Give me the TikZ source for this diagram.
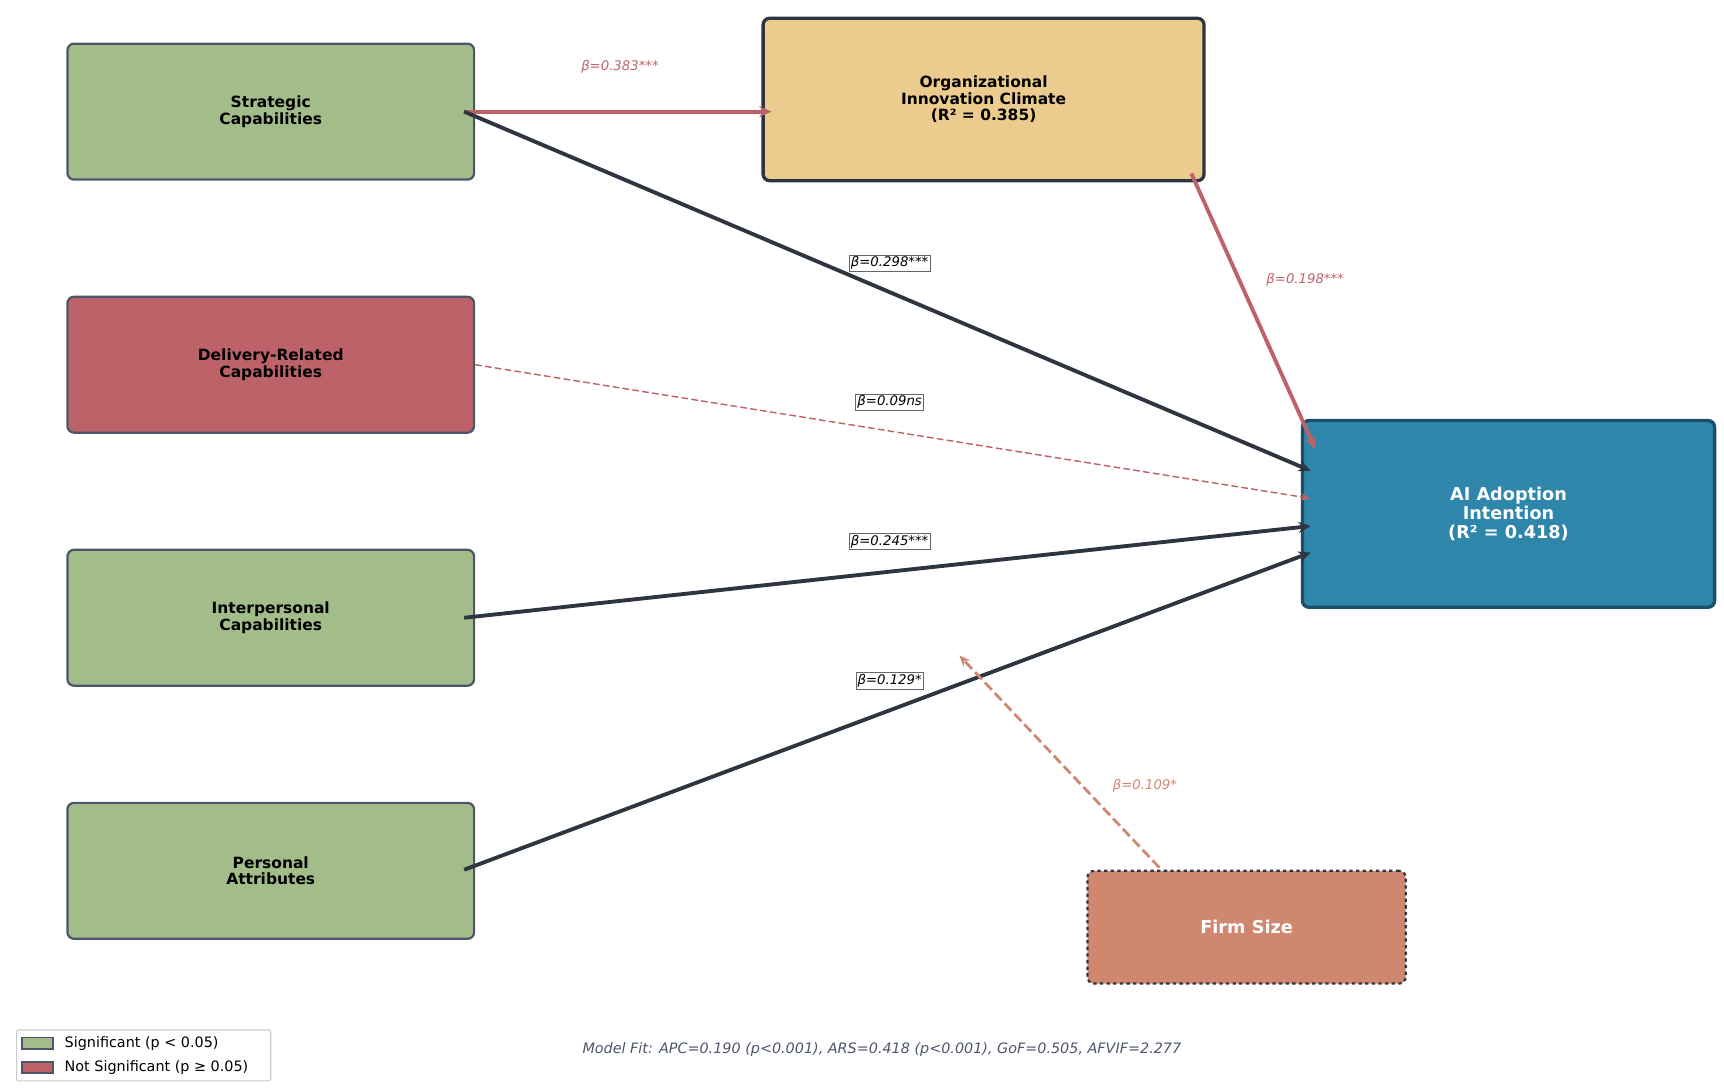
\documentclass[tikz,border=0pt]{standalone}
\usepackage{fontspec}
\setmainfont{DejaVu Sans}
\usetikzlibrary{arrows.meta,calc}
\definecolor{cg}{HTML}{A3BD8A}
\definecolor{cr}{HTML}{BE626A}
\definecolor{cy}{HTML}{EBCB8E}
\definecolor{cb}{HTML}{2E86AB}
\definecolor{co}{HTML}{D08770}
\definecolor{cd}{HTML}{2E3440}
\definecolor{ce}{HTML}{4C566A}
\definecolor{cbb}{HTML}{1B4F6B}
\begin{document}
\begin{tikzpicture}[x=1pt,y=-1pt,
 box/.style={draw=ce,line width=2pt,rounded corners=6pt,align=center,font=\bfseries\fontsize{14}{15}\selectfont,inner sep=0pt},
 lab/.style={font=\itshape\fontsize{12}{13}\selectfont},
 blab/.style={lab,draw=black!60,fill=white,inner sep=1.5pt,line width=0.6pt},
 strong/.style={draw=cd,line width=3.5pt,-{Stealth[length=11pt,width=10pt]}},
 sig/.style={draw=cr,line width=3.5pt,-{Stealth[length=11pt,width=10pt]}}]
\useasboundingbox (0,0) rectangle (1560,988);
\node[box,fill=cg,minimum width=368pt,minimum height=123pt] (S) at (245,101) {Strategic\\Capabilities};
\node[box,fill=cr,minimum width=368pt,minimum height=123pt] (D) at (245,330) {Delivery-Related\\Capabilities};
\node[box,fill=cg,minimum width=368pt,minimum height=123pt] (I) at (245,559) {Interpersonal\\Capabilities};
\node[box,fill=cg,minimum width=368pt,minimum height=123pt] (P) at (245,788) {Personal\\Attributes};
\node[box,fill=cy,draw=cd,line width=3pt,minimum width=399pt,minimum height=147pt] (O) at (890,90) {Organizational\\Innovation Climate\\(R² = 0.385)};
\node[box,fill=cb,draw=cbb,line width=3pt,text=white,font=\bfseries\fontsize{16}{17}\selectfont,minimum width=373pt,minimum height=169pt] (A) at (1365,465) {AI Adoption\\Intention\\(R² = 0.418)};
\node[box,fill=co,draw=cd,dashed,text=white,font=\bfseries\fontsize{16}{17}\selectfont,minimum width=288pt,minimum height=102pt] (F) at (1128,839) {Firm Size};
\coordinate (Se) at ($(S.east)+(-10,0)$);
\coordinate (De) at (D.east);
\coordinate (Ie) at ($(I.east)+(-10,0)$);
\coordinate (Pe) at ($(P.east)+(-10,-1)$);
\coordinate (Ow) at ($(O.west)+(9,11)$);
\coordinate (Os) at ($(O.south east)+(-13,-8)$);
\coordinate (A1) at ($(A.west)+(9,-39)$);
\coordinate (A2) at ($(A.west)+(9,-14)$);
\coordinate (A3) at ($(A.west)+(9,11)$);
\coordinate (A4) at ($(A.west)+(9,35)$);
\coordinate (A0) at ($(A.north west)+(13,27)$);
\coordinate (Ft) at ($(F.north west)+(66,-2)$);
\coordinate (Fe) at (868,593);
\draw[sig] (Se) -- (Ow);
\draw[strong] (Se) -- (A1);
\draw[draw=cr,line width=1.3pt,dash pattern=on 6pt off 3pt,-{Stealth[length=9pt,width=7pt]}] (De) -- (A2);
\draw[strong] (Ie) -- (A3);
\draw[strong] (Pe) -- (A4);
\draw[sig] (Os) -- (A0);
\draw[draw=co,line width=2.5pt,dash pattern=on 9pt off 4pt,-{Stealth[length=10pt,width=8pt]}] (Ft) -- (Fe);
\node[lab,text=cr] (l1) at (561,60) {β=0.383***};
\node[blab] (l2) at (805,238) {β=0.298***};
\node[blab] (l3) at (805,364) {β=0.09ns};
\node[blab] (l4) at (805,490) {β=0.245***};
\node[blab] (l5) at (805,616) {β=0.129*};
\node[lab,text=cr] (l6) at (1181,253) {β=0.198***};
\node[lab,text=co] (l7) at (1036,711) {β=0.109*};
\node[lab,text=ce,font=\itshape\fontsize{13}{14}\selectfont] (mf) at (798,950) {Model Fit: APC=0.190 (p<0.001), ARS=0.418 (p<0.001), GoF=0.505, AFVIF=2.277};
\draw[black!20,line width=1pt,rounded corners=2pt,fill=white] (15,932) rectangle (245,978);
\node[draw=ce,line width=1.3pt,fill=cg,minimum width=28pt,minimum height=10pt,inner sep=0pt] (g1) at (34,944) {};
\node[draw=ce,line width=1.3pt,fill=cr,minimum width=28pt,minimum height=10pt,inner sep=0pt] (g2) at (34,966) {};
\node[anchor=west,font=\fontsize{13}{14}\selectfont] (t1) at (55,944) {Significant (p < 0.05)};
\node[anchor=west,font=\fontsize{13}{14}\selectfont] (t2) at (55,966) {Not Significant (p ≥ 0.05)};
\end{tikzpicture}
\end{document}
